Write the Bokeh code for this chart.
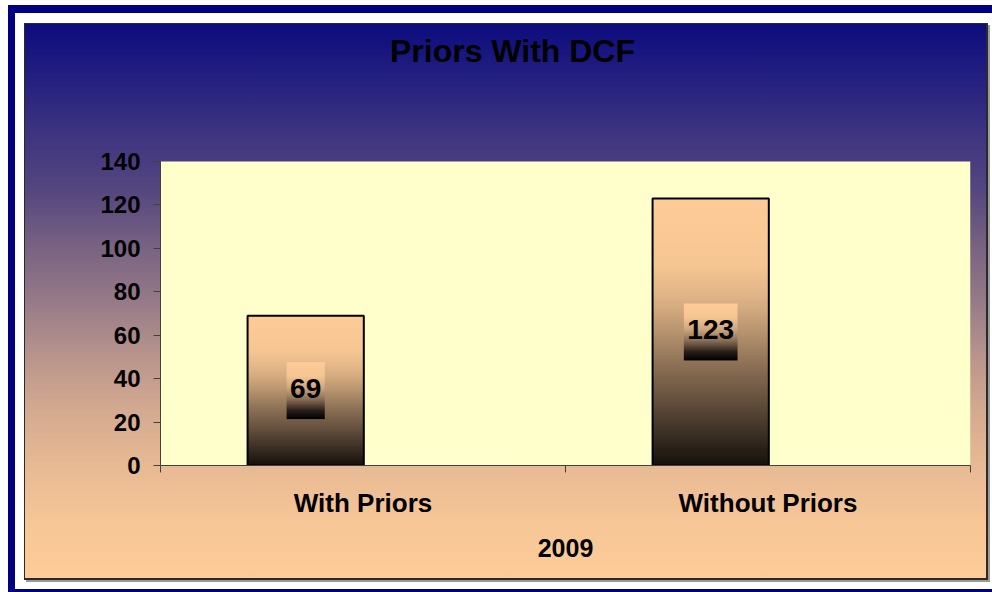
import numpy as np
from bokeh.plotting import figure
from bokeh.models import Range1d, FixedTicker, BoxAnnotation
from bokeh.core.properties import value
from bokeh.embed import file_html
from bokeh.resources import INLINE

# ---- data ----
title_text = "Priors With DCF"
categories = ["With Priors", "Without Priors"]
counts = [69, 123]
y_ticks = [0, 20, 40, 60, 80, 100, 120, 140]
x_axis_title = "2009"

FONT = "Liberation Sans"
n = len(categories)
y_max = max(y_ticks)

# ---- layout (pixels) ----
W, H = 984, 587
FRAME_L, FRAME_R = 152, 962          # plot area left/right inside the figure
PLOT_TOP, FRAME_B = 156, 460         # yellow plot area top / axis line
FRAME_T = 18                         # frame extends up into the title area
px_per_unit = (FRAME_B - PLOT_TOP) / y_max
px_per_cat = (FRAME_R - FRAME_L) / n
y_top = (FRAME_B - FRAME_T) / px_per_unit

# ---- gradients ----
def gradient(stops, rows=256):
    pos = [s[0] for s in stops]
    cols = [tuple(int(s[1][i:i + 2], 16) for i in (1, 3, 5)) for s in stops]
    t = np.linspace(0, 1, rows)
    img = np.empty((rows, 1), dtype=np.uint32)
    view = img.view(dtype=np.uint8).reshape((rows, 1, 4))
    for ch in range(3):
        view[:, 0, ch] = np.interp(t, pos, [c[ch] for c in cols]).astype(np.uint8)
    view[:, 0, 3] = 255
    return img

# row 0 = bottom
bar_img = gradient([(0.0, "#17110C"), (0.12, "#3D3126"), (0.25, "#67523F"),
                    (0.38, "#8E7257"), (0.5, "#B8946F"), (0.62, "#DEB286"),
                    (0.75, "#F6C692"), (1.0, "#FFCC99")])
lbl_img = gradient([(0.0, "#000000"), (0.15, "#2A2018"), (0.35, "#8A7058"),
                    (0.55, "#D0A880"), (0.75, "#F5C592"), (1.0, "#FFCC99")])

p = figure(width=W, height=H, output_backend="svg", toolbar_location=None,
           x_range=Range1d(0, n), y_range=Range1d(0, y_top),
           min_border_left=FRAME_L, min_border_right=W - FRAME_R,
           min_border_top=FRAME_T, min_border_bottom=H - FRAME_B)
p.title.visible = False

p.border_fill_color = None
p.background_fill_color = None
p.outline_line_color = None
p.xgrid.visible = False
p.ygrid.visible = False

chart_grad = ("linear-gradient(to bottom, #0C0C7E 0%, #242080 10%, #3E3480 20%, "
              "#54467F 30%, #786282 40%, #967A88 50%, #B8948C 60%, #D4AA90 70%, "
              "#E8BA94 80%, #F6C696 90%, #FECC98 100%)")
p.styles = {
    "margin": "5px 0px 0px 8px",
    "background-color": "#000080",
    "background-image": ", ".join([
        chart_grad,
        "linear-gradient(#2A2A2A, #2A2A2A)",
        "linear-gradient(#9A9A9A, #9A9A9A)",
        "linear-gradient(#FFFFFF, #FFFFFF)",
    ]),
    "background-position": "17px 19px, 16px 18px, 18px 20px, 7px 8px",
    "background-size": "961px 554px, 964px 557px, 964px 557px, 977px 576px",
    "background-repeat": "no-repeat",
}

# yellow plot area (0 .. max tick)
p.add_layout(BoxAnnotation(bottom=0, top=y_max, fill_color="#FFFFCC", fill_alpha=1.0,
                           line_color=None, level="underlay"))

# chart title (centred over the chart area, above the plot area)
p.text(x=[(360 - 8) / px_per_cat], y=[y_max + 110.5 / px_per_unit], text=[title_text],
       text_align="center", text_baseline="alphabetic", text_font=value(FONT),
       text_font_style="bold", text_font_size="32px", text_color="black")

# bars
left_off, right_off = 0.215, 0.502
bar_w = right_off - left_off
bar_x = [i + (left_off + right_off) / 2 for i in range(n)]
p.image_rgba(image=[bar_img] * n, x=[i + left_off for i in range(n)],
             y=[0] * n, dw=[bar_w] * n, dh=counts)
p.vbar(x=bar_x, top=counts, bottom=0, width=bar_w, fill_color=None,
       line_color="black", line_width=2)

# value labels with gradient boxes
labels = [str(c) for c in counts]
box_w = [(len(s) * 0.556 * 28 + 7) / px_per_cat for s in labels]
box_h = 57 / px_per_unit
p.image_rgba(image=[lbl_img] * n, x=[bx - w / 2 for bx, w in zip(bar_x, box_w)],
             y=[c / 2 - box_h / 2 for c in counts], dw=box_w, dh=[box_h] * n)
p.text(x=bar_x, y=[c / 2 for c in counts], text=labels, text_align="center",
       text_baseline="middle", text_font=value(FONT), text_font_style="bold",
       text_font_size="28px", text_color="black", y_offset=-2)

# axes
for ax in (p.xaxis[0], p.yaxis[0]):
    ax.axis_line_color = "#404040"
    ax.major_tick_line_color = "#404040"
    ax.minor_tick_line_color = "#404040"
    ax.major_label_text_font = FONT
    ax.major_label_text_font_style = "bold"
    ax.major_label_text_color = "black"

p.yaxis.ticker = FixedTicker(ticks=y_ticks)
p.yaxis.bounds = (0, y_max)
p.yaxis.major_tick_in = 0
p.yaxis.major_tick_out = 7
p.yaxis.minor_tick_out = 0
p.yaxis.major_label_text_font_size = "24px"
p.yaxis.major_label_standoff = 13

p.xaxis.ticker = FixedTicker(ticks=[i + 0.5 for i in range(n)],
                             minor_ticks=list(range(n + 1)))
p.xaxis.major_label_overrides = {i + 0.5: c for i, c in enumerate(categories)}
p.xaxis.major_tick_in = 0
p.xaxis.major_tick_out = 0
p.xaxis.minor_tick_in = 0
p.xaxis.minor_tick_out = 7
p.xaxis.major_label_text_font_size = "26px"
p.xaxis.major_label_standoff = 15
p.xaxis.axis_label = x_axis_title
p.xaxis.axis_label_text_font = FONT
p.xaxis.axis_label_text_font_style = "bold"
p.xaxis.axis_label_text_font_size = "25px"
p.xaxis.axis_label_text_color = "black"
p.xaxis.axis_label_standoff = 18

open("out.html", "w").write(file_html(p, INLINE))
